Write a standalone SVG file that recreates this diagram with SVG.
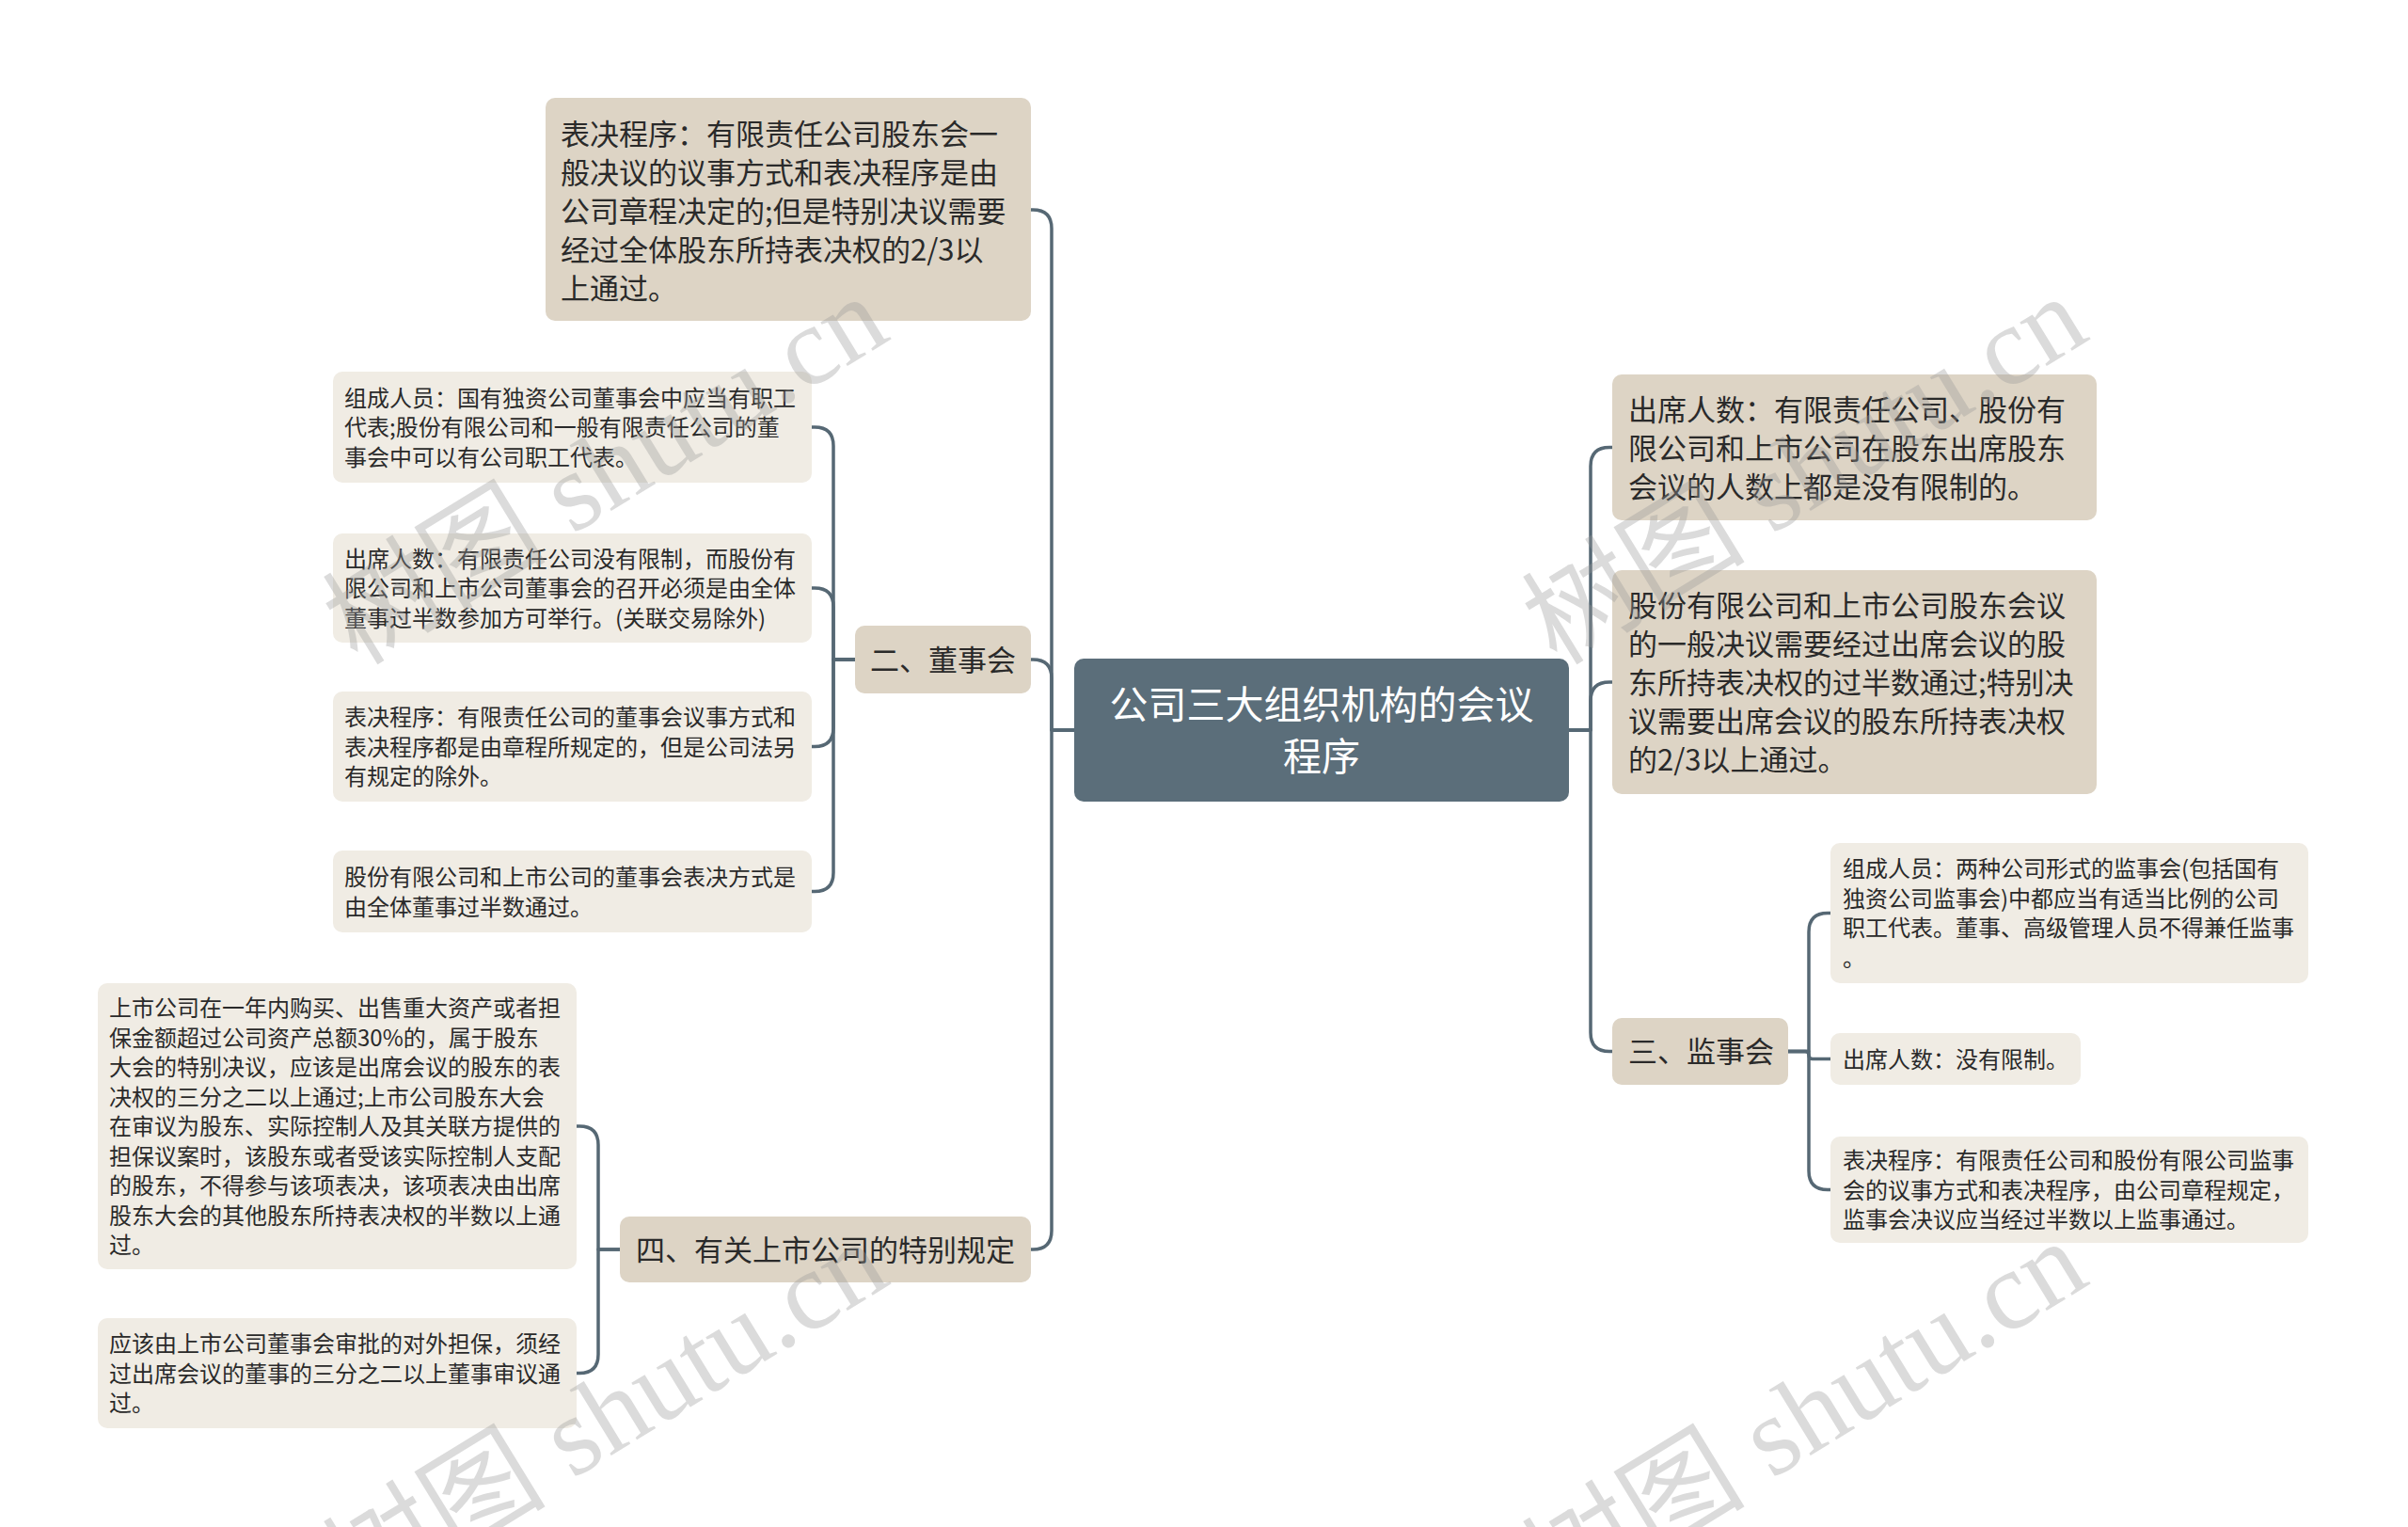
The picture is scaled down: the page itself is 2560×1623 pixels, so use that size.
<svg xmlns="http://www.w3.org/2000/svg" width="2560" height="1623" viewBox="0 0 2560 1623">
<style>
.root{fill:#5b6e7a}
.l1{fill:#ddd4c5}
.l2{fill:#f0ece4}
.t{font-family:"Noto Sans CJK SC","Noto Sans",sans-serif;fill:#2a2a2a}
.tr{font-family:"Noto Sans CJK SC","Noto Sans",sans-serif;fill:#ffffff;font-size:41px}
.f1{font-size:31px}
.f2{font-size:24px}
.c{fill:none;stroke:#566874;stroke-width:3.5;stroke-linecap:round;stroke-linejoin:round}
.wm{font-family:"Liberation Serif","Noto Sans CJK SC",serif;font-size:119px;fill:#9a9a9a;opacity:0.35}
</style>
<rect width="2560" height="1623" fill="#ffffff"/>
<g id="connectors">
<path class="c" d="M1142 776 H1118 V243 Q1118 223 1098 223 H1096"/>
<path class="c" d="M1142 776 H1118 V721 Q1118 701 1098 701 H1096"/>
<path class="c" d="M1142 776 H1118 V1308 Q1118 1328 1098 1328 H1096"/>
<path class="c" d="M909 701 H886 V474 Q886 454 866 454 H863"/>
<path class="c" d="M909 701 H886 V645 Q886 625 866 625 H863"/>
<path class="c" d="M909 701 H886 V773.5 Q886 793.5 866 793.5 H863"/>
<path class="c" d="M909 701 H886 V927.5 Q886 947.5 866 947.5 H863"/>
<path class="c" d="M659 1328 H636 V1217 Q636 1197 616 1197 H613"/>
<path class="c" d="M659 1328 H636 V1439.5 Q636 1459.5 616 1459.5 H613"/>
<path class="c" d="M1668 776 H1691 V495.5 Q1691 475.5 1711 475.5 H1714"/>
<path class="c" d="M1668 776 H1691 V745 Q1691 725 1711 725 H1714"/>
<path class="c" d="M1668 776 H1691 V1097.5 Q1691 1117.5 1711 1117.5 H1714"/>
<path class="c" d="M1901 1117.5 H1923 V990.5 Q1923 970.5 1943 970.5 H1946"/>
<path class="c" d="M1901 1117.5 H1919 Q1923 1117.5 1923 1121.5 Q1923 1125.5 1927 1125.5 H1946"/>
<path class="c" d="M1901 1117.5 H1923 V1244.5 Q1923 1264.5 1943 1264.5 H1946"/>
</g>
<g id="root">
<rect class="root" x="1142" y="700" width="526" height="152" rx="10"/>
<text class="tr" x="1405" y="764" text-anchor="middle">公司三大组织机构的会议</text>
<text class="tr" x="1405" y="819" text-anchor="middle">程序</text>
</g>
<g id="n-biaojue">
<rect class="l1" x="580" y="104" width="516" height="237" rx="10"/>
<text class="t f1"><tspan x="596" y="154">表决程序：有限责任公司股东会一</tspan><tspan x="596" y="195">般决议的议事方式和表决程序是由</tspan><tspan x="596" y="236">公司章程决定的;但是特别决议需要</tspan><tspan x="596" y="277">经过全体股东所持表决权的2/3以</tspan><tspan x="596" y="318">上通过。</tspan></text>
</g>
<g id="n-dongshihui">
<rect class="l1" x="909" y="665" width="187" height="72" rx="10"/>
<text class="t f1" x="925" y="713">二、董事会</text>
</g>
<g id="n-ds-zucheng">
<rect class="l2" x="354" y="395" width="509" height="118" rx="10"/>
<text class="t f2"><tspan x="366" y="431.5">组成人员：国有独资公司董事会中应当有职工</tspan><tspan x="366" y="463">代表;股份有限公司和一般有限责任公司的董</tspan><tspan x="366" y="494.5">事会中可以有公司职工代表。</tspan></text>
</g>
<g id="n-ds-chuxi">
<rect class="l2" x="354" y="567" width="509" height="116" rx="10"/>
<text class="t f2"><tspan x="366" y="602.5">出席人数：有限责任公司没有限制，而股份有</tspan><tspan x="366" y="634">限公司和上市公司董事会的召开必须是由全体</tspan><tspan x="366" y="665.5">董事过半数参加方可举行。(关联交易除外)</tspan></text>
</g>
<g id="n-ds-biaojue">
<rect class="l2" x="354" y="735" width="509" height="117" rx="10"/>
<text class="t f2"><tspan x="366" y="771">表决程序：有限责任公司的董事会议事方式和</tspan><tspan x="366" y="802.5">表决程序都是由章程所规定的，但是公司法另</tspan><tspan x="366" y="834">有规定的除外。</tspan></text>
</g>
<g id="n-ds-gufen">
<rect class="l2" x="354" y="904" width="509" height="87" rx="10"/>
<text class="t f2"><tspan x="366" y="941">股份有限公司和上市公司的董事会表决方式是</tspan><tspan x="366" y="972.5">由全体董事过半数通过。</tspan></text>
</g>
<g id="n-shangshi">
<rect class="l1" x="659" y="1293" width="437" height="70" rx="10"/>
<text class="t f1" x="676" y="1340">四、有关上市公司的特别规定</text>
</g>
<g id="n-ss-1">
<rect class="l2" x="104" y="1045" width="509" height="304" rx="10"/>
<text class="t f2"><tspan x="116" y="1080">上市公司在一年内购买、出售重大资产或者担</tspan><tspan x="116" y="1111.5">保金额超过公司资产总额30%的，属于股东</tspan><tspan x="116" y="1143">大会的特别决议，应该是出席会议的股东的表</tspan><tspan x="116" y="1174.5">决权的三分之二以上通过;上市公司股东大会</tspan><tspan x="116" y="1206">在审议为股东、实际控制人及其关联方提供的</tspan><tspan x="116" y="1237.5">担保议案时，该股东或者受该实际控制人支配</tspan><tspan x="116" y="1269">的股东，不得参与该项表决，该项表决由出席</tspan><tspan x="116" y="1300.5">股东大会的其他股东所持表决权的半数以上通</tspan><tspan x="116" y="1332">过。</tspan></text>
</g>
<g id="n-ss-2">
<rect class="l2" x="104" y="1401" width="509" height="117" rx="10"/>
<text class="t f2"><tspan x="116" y="1437">应该由上市公司董事会审批的对外担保，须经</tspan><tspan x="116" y="1468.5">过出席会议的董事的三分之二以上董事审议通</tspan><tspan x="116" y="1500">过。</tspan></text>
</g>
<g id="n-gd-chuxi">
<rect class="l1" x="1714" y="398" width="515" height="155" rx="10"/>
<text class="t f1"><tspan x="1731" y="446.5">出席人数：有限责任公司、股份有</tspan><tspan x="1731" y="487.5">限公司和上市公司在股东出席股东</tspan><tspan x="1731" y="528.5">会议的人数上都是没有限制的。</tspan></text>
</g>
<g id="n-gd-juexi">
<rect class="l1" x="1714" y="606" width="515" height="238" rx="10"/>
<text class="t f1"><tspan x="1731" y="655">股份有限公司和上市公司股东会议</tspan><tspan x="1731" y="696">的一般决议需要经过出席会议的股</tspan><tspan x="1731" y="737">东所持表决权的过半数通过;特别决</tspan><tspan x="1731" y="778">议需要出席会议的股东所持表决权</tspan><tspan x="1731" y="819">的2/3以上通过。</tspan></text>
</g>
<g id="n-jianshihui">
<rect class="l1" x="1714" y="1082" width="187" height="71" rx="10"/>
<text class="t f1" x="1731" y="1129">三、监事会</text>
</g>
<g id="n-js-zucheng">
<rect class="l2" x="1946" y="896" width="508" height="149" rx="10"/>
<text class="t f2"><tspan x="1959" y="932">组成人员：两种公司形式的监事会(包括国有</tspan><tspan x="1959" y="963.5">独资公司监事会)中都应当有适当比例的公司</tspan><tspan x="1959" y="995">职工代表。董事、高级管理人员不得兼任监事</tspan><tspan x="1959" y="1026.5">。</tspan></text>
</g>
<g id="n-js-chuxi">
<rect class="l2" x="1946" y="1098" width="266" height="55" rx="10"/>
<text class="t f2" x="1959" y="1134.5">出席人数：没有限制。</text>
</g>
<g id="n-js-biaojue">
<rect class="l2" x="1946" y="1208" width="508" height="113" rx="10"/>
<text class="t f2"><tspan x="1959" y="1242">表决程序：有限责任公司和股份有限公司监事</tspan><tspan x="1959" y="1273.5">会的议事方式和表决程序，由公司章程规定，</tspan><tspan x="1959" y="1305">监事会决议应当经过半数以上监事通过。</tspan></text>
</g>
<g id="watermarks">
<text class="wm" x="650" y="538" text-anchor="middle" transform="rotate(-31.5 650 510)">树图 shutu.cn</text>
<text class="wm" x="1925" y="538" text-anchor="middle" transform="rotate(-31.5 1925 510)">树图 shutu.cn</text>
<text class="wm" x="650" y="1542" text-anchor="middle" transform="rotate(-31.5 650 1514)">树图 shutu.cn</text>
<text class="wm" x="1925" y="1542" text-anchor="middle" transform="rotate(-31.5 1925 1514)">树图 shutu.cn</text>
</g>
</svg>
